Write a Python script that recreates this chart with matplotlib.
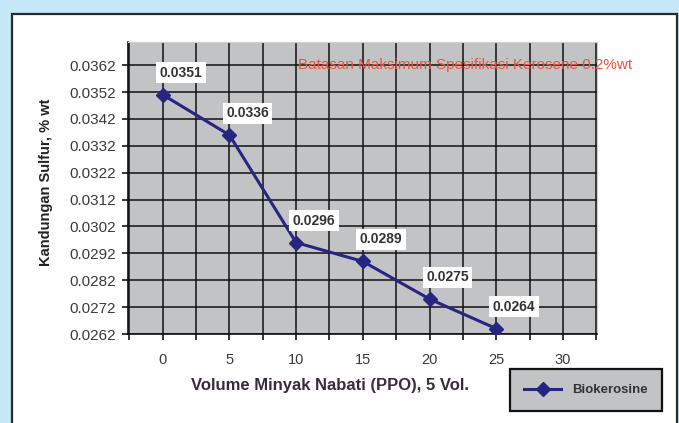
import matplotlib
matplotlib.use("Agg")
import matplotlib.pyplot as plt
from matplotlib.patches import Rectangle
from matplotlib.ticker import MultipleLocator

volume = [0, 5, 10, 15, 20, 25]
sulfur = [0.0351, 0.0336, 0.0296, 0.0289, 0.0275, 0.0264]
y_ticks = [0.0262, 0.0272, 0.0282, 0.0292, 0.0302, 0.0312,
           0.0322, 0.0332, 0.0342, 0.0352, 0.0362]
x_ticks = [0, 5, 10, 15, 20, 25, 30]
series_name = "Biokerosine"
note = "Batasan Maksimum Spesifikasi Kerosene 0.2%wt"

plt.rcParams["font.family"] = ["Liberation Sans", "DejaVu Sans"]

W, H = 679, 423
fig = plt.figure(figsize=(W / 100, H / 100), dpi=100)
fig.patch.set_facecolor("#c6e7f8")

# white panel with dark border, kept behind the axes
fig.patches.append(Rectangle((12 / W, -0.05), 665 / W, 1.05 - 14 / H,
                             transform=fig.transFigure, facecolor="white",
                             edgecolor="#2a2a2a", linewidth=1.6, zorder=-10))

ax = fig.add_axes([128 / W, 1 - 334 / H, 469 / W, 292 / H])
ax.set_facecolor("#c2c3c5")
ax.set_xlim(-2.6, 32.55)
ax.set_ylim(0.0262, 0.03706)

ax.set_xticks(x_ticks)
ax.xaxis.set_minor_locator(MultipleLocator(2.5))
ax.set_yticks(y_ticks)
ax.set_yticklabels([f"{v:.4f}" for v in y_ticks])

ax.grid(True, which="both", color="#111111", linewidth=1.1)
ax.set_axisbelow(True)
for s in ["top", "right"]:
    ax.spines[s].set_color("#d0d0d0")
    ax.spines[s].set_linewidth(0.8)
for s in ["left", "bottom"]:
    ax.spines[s].set_color("#111111")
    ax.spines[s].set_linewidth(1.2)

ax.tick_params(axis="y", which="major", length=4, width=1.1, pad=5,
               labelsize=11, labelcolor="#3a3a3a", direction="out")
ax.tick_params(axis="x", which="both", length=4, width=1.1, pad=10,
               labelsize=10.5, labelcolor="#3a3a3a", direction="out")

ax.plot(volume, sulfur, color="#262682", linewidth=2.2, marker="D",
        markersize=7, label=series_name, zorder=5)

for xv, yv in zip(volume, sulfur):
    ax.annotate(f"{yv:.4f}", (xv, yv), xytext=(18, 22),
                textcoords="offset pixels", ha="center", va="center",
                fontsize=10, fontweight="bold", color="#333333",
                bbox=dict(boxstyle="square,pad=0.25", facecolor="white",
                          edgecolor="none"), zorder=6)

fig.text(298 / W, 1 - 65 / H, note, color="#e8553f", fontsize=11,
         ha="left", va="center")

fig.text(46 / W, 1 - 182 / H, "Kandungan Sulfur, % wt", rotation=90,
         fontsize=10.5, fontweight="bold", color="#222222",
         ha="center", va="center")
fig.text(330 / W, 1 - 385 / H, "Volume Minyak Nabati (PPO), 5 Vol.",
         fontsize=12, fontweight="bold", color="#3a2a3a",
         ha="center", va="center")

leg = ax.legend(loc="center", bbox_to_anchor=(586 / W, 1 - 390 / H),
                bbox_transform=fig.transFigure, fancybox=False,
                framealpha=1, handlelength=2.8, borderpad=1.1,
                prop={"weight": "bold", "size": 9.5})
leg.get_frame().set_facecolor("#c2c3c5")
leg.get_frame().set_edgecolor("#111111")
leg.get_frame().set_linewidth(1.6)
for t in leg.get_texts():
    t.set_color("#333333")

fig.savefig("out.png", dpi=100, facecolor=fig.get_facecolor())
